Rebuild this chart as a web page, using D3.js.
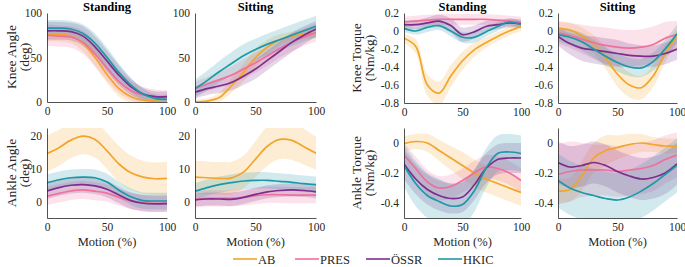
<!DOCTYPE html>
<html>
<head>
<meta charset="utf-8">
<script src="https://cdn.jsdelivr.net/npm/d3@7"></script>
<style>
  body { margin: 0; background: #fff; }
  svg text { font-family: "Liberation Serif", "Times New Roman", "DejaVu Serif", serif !important; }
</style>
</head>
<body>
<svg id="chart" width="685" height="267"></svg>
<script>
// x grid (motion %) shared by every series
const motion = [0, 10, 20, 30, 40, 50, 60, 70, 80, 90, 100];
const groups = ["AB", "PRES", "ÖSSR", "HKIC"];
const groupColors = ["#f2a52a", "#ef709b", "#7d2e8d", "#1c98a6"];

// means, one row per group (AB, PRES, ÖSSR, HKIC)
const kneeAngleStand = [
  [76, 76, 74, 66, 50, 31, 15, 6, 2, 1, 0],
  [75, 74, 73, 67, 54, 38, 23, 13, 8, 6, 5],
  [80, 80, 79, 74, 62, 46, 30, 17, 9, 6, 6],
  [83, 83, 82, 77, 66, 50, 33, 19, 9, 4, 3]
];
const kneeAngleStandSd = [
  [8, 8, 8, 9, 10, 10, 9, 7, 5, 4, 4],
  [12, 12, 12, 13, 14, 14, 13, 11, 9, 8, 8],
  [10, 10, 10, 11, 12, 12, 11, 9, 7, 6, 6],
  [9, 9, 9, 10, 11, 11, 10, 8, 6, 5, 5]
];
const kneeAngleSit = [
  [0, 1, 5, 18, 33, 50, 62, 70, 74, 76, 77],
  [15, 20, 25, 30, 37, 44, 52, 60, 67, 73, 78],
  [11, 15, 18, 22, 29, 37, 47, 57, 67, 75, 82],
  [15, 24, 34, 43, 52, 59, 65, 70, 75, 80, 85]
];
const kneeAngleSitSd = [
  [3, 3, 5, 8, 10, 10, 8, 6, 5, 5, 5],
  [8, 8, 9, 10, 11, 11, 11, 10, 10, 10, 10],
  [7, 7, 8, 9, 10, 11, 11, 11, 11, 10, 9],
  [10, 11, 12, 13, 13, 12, 12, 12, 12, 12, 12]
];
const kneeTorqueStand = [
  [-0.08, -0.17, -0.6, -0.69, -0.5, -0.33, -0.21, -0.13, -0.06, 0.0, 0.05],
  [0.1, 0.11, 0.12, 0.13, 0.13, 0.13, 0.13, 0.13, 0.12, 0.11, 0.1],
  [0.07, 0.07, 0.09, 0.11, 0.06, -0.04, -0.01, 0.05, 0.07, 0.09, 0.08],
  [0.03, 0.0, 0.04, 0.06, 0.0, -0.07, -0.07, -0.01, 0.05, 0.1, 0.07]
];
const kneeTorqueStandSd = [
  [0.05, 0.08, 0.12, 0.13, 0.12, 0.1, 0.08, 0.06, 0.05, 0.05, 0.05],
  [0.06, 0.06, 0.06, 0.06, 0.06, 0.06, 0.06, 0.06, 0.06, 0.06, 0.06],
  [0.05, 0.05, 0.06, 0.07, 0.08, 0.08, 0.07, 0.06, 0.05, 0.05, 0.05],
  [0.04, 0.04, 0.05, 0.05, 0.06, 0.06, 0.06, 0.05, 0.05, 0.04, 0.04]
];
const kneeTorqueSit = [
  [0.03, 0.01, -0.05, -0.15, -0.3, -0.48, -0.6, -0.63, -0.5, -0.25, -0.06],
  [-0.02, -0.05, -0.09, -0.13, -0.16, -0.18, -0.19, -0.18, -0.15, -0.08, -0.04],
  [-0.06, -0.14, -0.19, -0.21, -0.23, -0.25, -0.27, -0.28, -0.28, -0.25, -0.2],
  [-0.04, -0.07, -0.12, -0.2, -0.28, -0.35, -0.4, -0.41, -0.34, -0.2, -0.03]
];
const kneeTorqueSitSd = [
  [0.08, 0.08, 0.09, 0.1, 0.12, 0.14, 0.14, 0.13, 0.12, 0.1, 0.08],
  [0.12, 0.14, 0.16, 0.18, 0.2, 0.2, 0.2, 0.2, 0.2, 0.18, 0.15],
  [0.1, 0.12, 0.14, 0.15, 0.15, 0.15, 0.13, 0.12, 0.12, 0.12, 0.12],
  [0.08, 0.09, 0.1, 0.1, 0.1, 0.1, 0.1, 0.1, 0.1, 0.1, 0.1]
];
const ankleAngleStand = [
  [14.7, 16.5, 18.8, 20, 19, 15.5, 11.5, 8.8, 7.5, 7, 7.1],
  [1.7, 2.5, 3.3, 3.6, 3.2, 2.6, 1.3, 0.2, -0.3, -0.5, -0.5],
  [3.3, 4.3, 5, 5.2, 4.8, 3.8, 2, 0.3, -0.5, -0.7, -0.6],
  [5.8, 6.7, 7.3, 7.5, 7.3, 6, 3.5, 1.5, 0.3, 0.2, 0.2]
];
const ankleAngleStandSd = [
  [5.5, 5.5, 5.5, 5.5, 5.5, 5.5, 5.5, 5.2, 5, 5, 5],
  [2.8, 2.8, 2.8, 2.8, 2.8, 2.6, 2.5, 2.5, 2.5, 2.5, 2.5],
  [2.5, 2.5, 2.5, 2.5, 2.5, 2.5, 2.5, 2.5, 2.5, 2.5, 2.5],
  [2.5, 2.5, 2.5, 2.5, 2.5, 2.5, 2.5, 2.5, 2.5, 2.5, 2.5]
];
const ankleAngleSit = [
  [7.5, 7.3, 7.1, 7.2, 9, 13, 17, 19, 18.7, 16.8, 14.8],
  [0.7, 1, 1, 1, 1.3, 1.8, 2.1, 2.1, 2, 2, 2],
  [0.5, 0.8, 0.8, 0.7, 1.3, 2.2, 3, 3.4, 3.6, 3.4, 3],
  [3.2, 4.3, 5.2, 5.8, 6.3, 6.5, 6.5, 6.2, 5.9, 5.5, 5.2]
];
const ankleAngleSitSd = [
  [5, 5, 5, 5, 5, 5.5, 6, 6, 6, 5.5, 5],
  [2.5, 2.5, 2.5, 2.5, 2.5, 2.5, 2.5, 2.5, 2.5, 2.5, 2.5],
  [2, 2, 2, 2, 2, 2, 2, 2, 2, 2, 2],
  [2.5, 2.5, 2.5, 2.5, 2.5, 2.5, 2.5, 2.5, 2.5, 2.5, 2.5]
];
const ankleTorqueStand = [
  [-0.005, 0.01, 0.0, -0.05, -0.1, -0.15, -0.2, -0.24, -0.27, -0.3, -0.33],
  [-0.08, -0.17, -0.26, -0.3, -0.29, -0.25, -0.2, -0.16, -0.17, -0.2, -0.25],
  [-0.14, -0.24, -0.31, -0.35, -0.37, -0.36, -0.28, -0.17, -0.11, -0.1, -0.1],
  [-0.15, -0.27, -0.35, -0.39, -0.42, -0.41, -0.32, -0.17, -0.07, -0.06, -0.07]
];
const ankleTorqueStandSd = [
  [0.05, 0.05, 0.06, 0.07, 0.08, 0.09, 0.09, 0.09, 0.09, 0.09, 0.09],
  [0.08, 0.08, 0.08, 0.08, 0.08, 0.08, 0.08, 0.08, 0.08, 0.08, 0.08],
  [0.1, 0.1, 0.1, 0.1, 0.1, 0.1, 0.1, 0.1, 0.1, 0.1, 0.1],
  [0.14, 0.15, 0.15, 0.15, 0.15, 0.15, 0.14, 0.13, 0.12, 0.12, 0.12]
];
const ankleTorqueSit = [
  [-0.32, -0.31, -0.22, -0.1, -0.05, -0.03, -0.01, 0.0, -0.01, -0.02, -0.02],
  [-0.21, -0.19, -0.18, -0.18, -0.18, -0.19, -0.18, -0.17, -0.15, -0.11, -0.08],
  [-0.13, -0.16, -0.15, -0.13, -0.15, -0.19, -0.22, -0.24, -0.23, -0.2, -0.14],
  [-0.25, -0.3, -0.33, -0.35, -0.37, -0.38, -0.36, -0.32, -0.27, -0.21, -0.15]
];
const ankleTorqueSitSd = [
  [0.08, 0.08, 0.1, 0.1, 0.1, 0.08, 0.07, 0.06, 0.05, 0.05, 0.05],
  [0.2, 0.2, 0.18, 0.17, 0.17, 0.17, 0.17, 0.17, 0.17, 0.16, 0.15],
  [0.14, 0.14, 0.14, 0.14, 0.14, 0.14, 0.14, 0.14, 0.14, 0.14, 0.14],
  [0.18, 0.18, 0.18, 0.18, 0.18, 0.18, 0.18, 0.18, 0.18, 0.18, 0.18]
];

const xTicks = [0, 50, 100];
const kneeAngleTicks = [0, 50, 100];
const kneeTorqueTicks = [0.2, 0, -0.2, -0.4, -0.6, -0.8];
const ankleAngleTicks = [0, 10, 20];
const ankleTorqueTicks = [0, -0.2, -0.4];

const svg = d3.select("#chart");
const axisColor = "#262626";

// panel boxes (left, right, top, bottom in px)
const panels = [
  {x0: 47, x1: 167, y0: 13, y1: 102, dom: [0, 100], ticks: kneeAngleTicks, mean: kneeAngleStand, sd: kneeAngleStandSd, title: "Standing"},
  {x0: 195, x1: 316, y0: 13, y1: 102, dom: [0, 100], ticks: kneeAngleTicks, mean: kneeAngleSit, sd: kneeAngleSitSd, title: "Sitting"},
  {x0: 404, x1: 521, y0: 13, y1: 103, dom: [-0.8, 0.2], ticks: kneeTorqueTicks, mean: kneeTorqueStand, sd: kneeTorqueStandSd, title: "Standing"},
  {x0: 558, x1: 677, y0: 13, y1: 103, dom: [-0.8, 0.2], ticks: kneeTorqueTicks, mean: kneeTorqueSit, sd: kneeTorqueSitSd, title: "Sitting"},
  {x0: 47, x1: 167, y0: 128, y1: 218, dom: [-5, 22.5], ticks: ankleAngleTicks, mean: ankleAngleStand, sd: ankleAngleStandSd, xlab: true},
  {x0: 195, x1: 316, y0: 128, y1: 218, dom: [-5, 22.5], ticks: ankleAngleTicks, mean: ankleAngleSit, sd: ankleAngleSitSd, xlab: true},
  {x0: 404, x1: 521, y0: 128, y1: 218, dom: [-0.5, 0.1], ticks: ankleTorqueTicks, mean: ankleTorqueStand, sd: ankleTorqueStandSd, xlab: true},
  {x0: 558, x1: 677, y0: 128, y1: 218, dom: [-0.5, 0.1], ticks: ankleTorqueTicks, mean: ankleTorqueSit, sd: ankleTorqueSitSd, xlab: true}
];

const fmt = d => String(d);

panels.forEach((p, i) => {
  const x = d3.scaleLinear().domain([0, 100]).range([p.x0, p.x1]);
  const y = d3.scaleLinear().domain(p.dom).range([p.y1, p.y0]);
  const g = svg.append("g");

  g.append("clipPath").attr("id", "clip" + i)
    .append("rect").attr("x", p.x0).attr("y", p.y0)
    .attr("width", p.x1 - p.x0).attr("height", p.y1 - p.y0);

  const plot = g.append("g").attr("clip-path", `url(#clip${i})`);

  const band = d3.area()
    .x((d, j) => x(motion[j]))
    .y0(d => y(d[0] - d[1]))
    .y1(d => y(d[0] + d[1]))
    .curve(d3.curveCatmullRom);
  const line = d3.line()
    .x((d, j) => x(motion[j]))
    .y(d => y(d))
    .curve(d3.curveCatmullRom);

  p.mean.forEach((m, k) => {
    plot.append("path")
      .attr("d", band(m.map((v, j) => [v, p.sd[k][j]])))
      .attr("fill", groupColors[k])
      .attr("fill-opacity", 0.2);
  });
  p.mean.forEach((m, k) => {
    plot.append("path")
      .attr("d", line(m))
      .attr("fill", "none")
      .attr("stroke", groupColors[k])
      .attr("stroke-width", 1.7);
  });

  const xAxis = g.append("g")
    .attr("transform", `translate(0,${p.y1})`)
    .call(d3.axisBottom(x).tickValues(xTicks).tickSize(0).tickPadding(5).tickFormat(fmt));
  const yAxis = g.append("g")
    .attr("transform", `translate(${p.x0},0)`)
    .call(d3.axisLeft(y).tickValues(p.ticks).tickSize(0).tickPadding(5).tickFormat(fmt));
  [xAxis, yAxis].forEach(a => {
    a.select(".domain").attr("stroke", axisColor).attr("stroke-width", 0.8);
    a.selectAll("text").attr("font-size", 11.5).attr("fill", axisColor);
  });

  if (p.title) {
    g.append("text")
      .attr("x", (p.x0 + p.x1) / 2).attr("y", 10.5)
      .attr("text-anchor", "middle")
      .attr("font-size", 12.5).attr("font-weight", "bold")
      .text(p.title);
  }
  if (p.xlab) {
    g.append("text")
      .attr("x", (p.x0 + p.x1) / 2).attr("y", 246)
      .attr("text-anchor", "middle")
      .attr("font-size", 12.5).attr("fill", axisColor)
      .text("Motion (%)");
  }
});

// y labels
const yLabels = [
  {x: 12, y: 57, lines: ["Knee Angle", "(deg)"]},
  {x: 12, y: 173, lines: ["Ankle Angle", "(deg)"]},
  {x: 357, y: 58, lines: ["Knee Torque", "(Nm/kg)"]},
  {x: 357, y: 173, lines: ["Ankle Torque", "(Nm/kg)"]}
];
yLabels.forEach(l => {
  const t = svg.append("text")
    .attr("transform", `translate(${l.x},${l.y}) rotate(-90)`)
    .attr("text-anchor", "middle")
    .attr("font-size", 13.5).attr("fill", axisColor);
  l.lines.forEach((s, j) => {
    t.append("tspan").attr("x", 0).attr("dy", j === 0 ? 4 : 13).text(s);
  });
});

// legend
const legendX = [233, 295, 366, 438];
const legend = svg.append("g");
groups.forEach((name, k) => {
  legend.append("line")
    .attr("x1", legendX[k]).attr("x2", legendX[k] + 24)
    .attr("y1", 259).attr("y2", 259)
    .attr("stroke", groupColors[k]).attr("stroke-width", 1.6);
  legend.append("text")
    .attr("x", legendX[k] + 25).attr("y", 263.5)
    .attr("font-size", 12.5).attr("fill", axisColor)
    .text(name);
});
</script>
</body>
</html>
